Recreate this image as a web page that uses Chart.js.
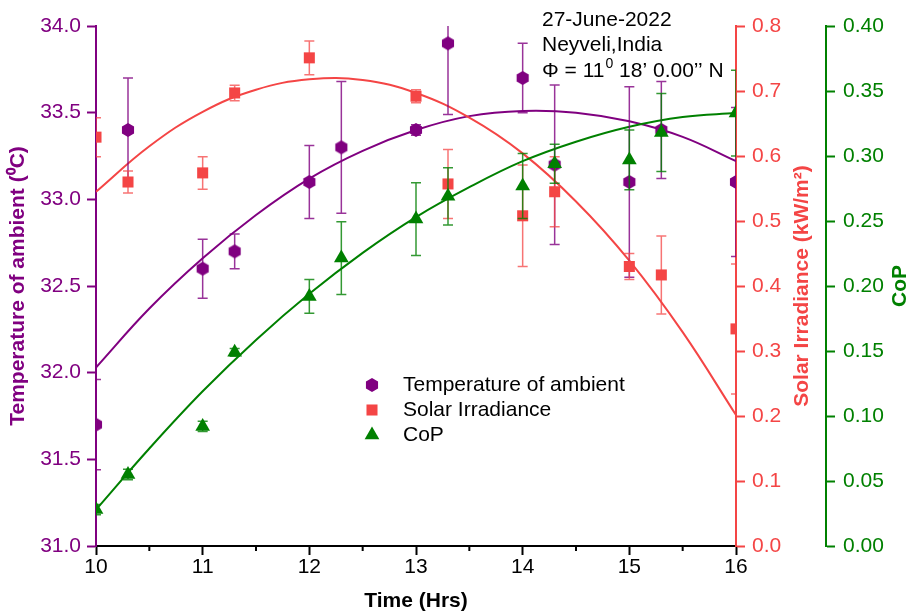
<!DOCTYPE html>
<html>
<head>
<meta charset="utf-8">
<script src="https://cdn.jsdelivr.net/npm/chart.js@4.4.0/dist/chart.umd.min.js"></script>
<style>
  body { margin: 0; background: #fff; }
  #wrap { width: 909px; height: 615px; }
</style>
</head>
<body>
<div id="wrap"><canvas id="chart" width="909" height="615"></canvas></div>
<script>
// measured points
const times = [10, 10.3, 11, 11.3, 12, 12.3, 13, 13.3, 14, 14.3, 15, 15.3, 16];
const tempAmbient = [31.7, 33.4, 32.6, 32.7, 33.1, 33.3, 33.4, 33.9, 33.7, 33.2, 33.1, 33.4, 33.1];
const tempErr = [0.26, 0.3, 0.17, 0.1, 0.21, 0.38, 0.03, 0.41, 0.2, 0.46, 0.55, 0.28, 0.43];
const solar = [0.629, 0.56, 0.574, 0.697, 0.751, null, 0.692, 0.557, 0.508, 0.545, 0.43, 0.417, 0.334];
const solarErr = [0.03, 0.017, 0.025, 0.012, 0.026, 0, 0.01, 0.053, 0.078, 0.054, 0.02, 0.06, 0.1];
const cop = [0.028, 0.055, 0.092, 0.149, 0.192, 0.2215, 0.2515, 0.269, 0.277, 0.294, 0.297, 0.318, 0.333];
const copErr = [0.004, 0.004, 0.004, 0.003, 0.013, 0.028, 0.028, 0.022, 0.025, 0.015, 0.023, 0.03, 0.033];

// fitted curves, every half hour
const fitTimes = [10, 10.5, 11, 11.5, 12, 12.5, 13, 13.5, 14, 14.5, 15, 15.5, 16];
const fitTemp = [32.03, 32.37, 32.66, 32.91, 33.12, 33.28, 33.40, 33.48, 33.51, 33.50, 33.45, 33.36, 33.22];
const fitSolar = [0.545, 0.615, 0.668, 0.702, 0.718, 0.717, 0.697, 0.659, 0.604, 0.530, 0.439, 0.329, 0.2015];
const fitCop = [0.028, 0.075, 0.119, 0.1585, 0.194, 0.2255, 0.253, 0.276, 0.296, 0.311, 0.3225, 0.33, 0.333];

const PURPLE = '#800080';
const RED = '#f44545';
const GREEN = '#008000';
const FONT = '"Liberation Sans", Arial, sans-serif';

Chart.defaults.font.family = FONT;
Chart.defaults.font.size = 21;

function hexagon(r, color) {
  const c = document.createElement('canvas');
  const s = Math.ceil(r * 2) + 2;
  c.width = s; c.height = s;
  const g = c.getContext('2d');
  g.fillStyle = color;
  g.beginPath();
  for (let k = 0; k < 6; k++) {
    const a = Math.PI / 2 + k * Math.PI / 3;
    const px = s / 2 + r * Math.cos(a), py = s / 2 + r * Math.sin(a);
    if (k) g.lineTo(px, py); else g.moveTo(px, py);
  }
  g.closePath();
  g.fill();
  return c;
}
const hexIcon = hexagon(7, PURPLE);

const pts = (xs, ys) => xs.map((x, i) => ({ x: x, y: ys[i] }));

// error bars under each marker set
const errorBars = {
  id: 'errorBars',
  beforeDatasetDraw(chart, args) {
    const ds = chart.data.datasets[args.index];
    if (!ds.errors) return;
    const yScale = chart.scales[ds.yAxisID];
    const ctx = chart.ctx;
    const a = chart.chartArea;
    ctx.save();
    ctx.beginPath();
    ctx.rect(a.left, a.top, a.right - a.left, a.bottom - a.top);
    ctx.clip();
    ctx.strokeStyle = ds.errorColor;
    ctx.lineWidth = 1.5;
    args.meta.data.forEach((pt, i) => {
      const v = ds.data[i].y;
      if (v == null || !ds.errors[i]) return;
      const top = yScale.getPixelForValue(v + ds.errors[i]);
      const bot = yScale.getPixelForValue(v - ds.errors[i]);
      ctx.beginPath();
      ctx.moveTo(pt.x, top); ctx.lineTo(pt.x, bot);
      ctx.moveTo(pt.x - 5, top); ctx.lineTo(pt.x + 5, top);
      ctx.moveTo(pt.x - 5, bot); ctx.lineTo(pt.x + 5, bot);
      ctx.stroke();
    });
    ctx.restore();
  }
};

// minor ticks, right-hand titles, legend and note
const extras = {
  id: 'extras',
  afterDraw(chart) {
    const ctx = chart.ctx;
    const x = chart.scales.x;
    ctx.save();
    ctx.strokeStyle = '#000';
    ctx.lineWidth = 2;
    for (let v = 10.5; v < 16; v += 1) {
      const px = x.getPixelForValue(v);
      ctx.beginPath();
      ctx.moveTo(px, x.top); ctx.lineTo(px, x.top + 5);
      ctx.stroke();
    }

    const midY = (chart.chartArea.top + chart.chartArea.bottom) / 2;
    ctx.font = 'bold 21px ' + FONT;
    ctx.textAlign = 'center';
    ctx.textBaseline = 'middle';
    ctx.save();
    ctx.translate(802, midY);
    ctx.rotate(-Math.PI / 2);
    ctx.fillStyle = RED;
    ctx.fillText('Solar Irradiance (kW/m²)', 0, 0);
    ctx.restore();
    ctx.save();
    ctx.translate(900, midY);
    ctx.rotate(-Math.PI / 2);
    ctx.fillStyle = GREEN;
    ctx.fillText('CoP', 0, 0);
    ctx.restore();

    // legend
    ctx.font = '21px ' + FONT;
    ctx.textAlign = 'left';
    const items = chart.data.datasets.filter(d => d.errors).reverse();
    items.forEach((d, i) => {
      const ly = 385 + i * 25;
      ctx.fillStyle = d.backgroundColor;
      Chart.helpers.drawPoint(ctx, { pointStyle: d.pointStyle, radius: d.pointRadius, rotation: 0, borderWidth: 0 }, 372, ly);
      ctx.fillStyle = '#000';
      ctx.fillText(d.label, 403, ly);
    });

    // note
    ctx.fillStyle = '#000';
    ctx.fillText('27-June-2022', 542, 20);
    ctx.fillText('Neyveli,India', 542, 45);
    const head = 'Φ = 11';
    ctx.fillText(head, 542, 71);
    let nx = 542 + ctx.measureText(head).width;
    ctx.font = '14px ' + FONT;
    ctx.fillText('0', nx + 1, 64);
    nx += ctx.measureText('0').width + 1;
    ctx.font = '21px ' + FONT;
    ctx.fillText(' 18’ 0.00’’ N', nx, 71);
    ctx.restore();
  }
};

new Chart(document.getElementById('chart'), {
  type: 'line',
  data: {
    datasets: [
      {
        label: 'CoP',
        data: pts(times, cop),
        errors: copErr,
        errorColor: 'rgba(0,128,0,0.8)',
        yAxisID: 'yCop',
        showLine: false,
        pointStyle: 'triangle',
        pointRadius: 8.5,
        pointBorderWidth: 0,
        backgroundColor: GREEN,
        borderColor: GREEN,
        clip: 0,
        order: 1
      },
      {
        label: 'Solar Irradiance',
        data: pts(times, solar),
        errors: solarErr,
        errorColor: 'rgba(244,69,69,0.75)',
        yAxisID: 'ySolar',
        showLine: false,
        pointStyle: 'rect',
        pointRadius: 7.8,
        pointBorderWidth: 0,
        backgroundColor: RED,
        borderColor: RED,
        clip: 0,
        order: 2
      },
      {
        label: 'Temperature of ambient',
        data: pts(times, tempAmbient),
        errors: tempErr,
        errorColor: 'rgba(128,0,128,0.8)',
        yAxisID: 'y',
        showLine: false,
        pointStyle: hexIcon,
        pointRadius: 7,
        pointBorderWidth: 0,
        backgroundColor: PURPLE,
        borderColor: PURPLE,
        clip: 0,
        order: 3
      },
      {
        label: 'fitCop',
        data: pts(fitTimes, fitCop),
        yAxisID: 'yCop',
        borderColor: GREEN,
        borderWidth: 2,
        pointRadius: 0,
        tension: 0.4,
        clip: 0,
        order: 4
      },
      {
        label: 'fitSolar',
        data: pts(fitTimes, fitSolar),
        yAxisID: 'ySolar',
        borderColor: RED,
        borderWidth: 2,
        pointRadius: 0,
        tension: 0.4,
        clip: 0,
        order: 5
      },
      {
        label: 'fitTemp',
        data: pts(fitTimes, fitTemp),
        yAxisID: 'y',
        borderColor: PURPLE,
        borderWidth: 2,
        pointRadius: 0,
        tension: 0.4,
        clip: 0,
        order: 6
      }
    ]
  },
  options: {
    responsive: false,
    animation: false,
    layout: { padding: { top: 26, left: 0, right: 0, bottom: 0 } },
    plugins: {
      legend: { display: false },
      tooltip: { enabled: false }
    },
    scales: {
      x: {
        type: 'linear',
        position: 'bottom',
        min: 10,
        max: 16,
        ticks: { stepSize: 1, color: '#000', padding: 0, autoSkip: false, maxRotation: 0 },
        grid: { drawOnChartArea: false, tickLength: 9, tickColor: '#000', tickWidth: 2 },
        border: { color: '#000', width: 2 },
        title: { display: true, text: 'Time (Hrs)', color: '#000', font: { weight: 'bold', size: 21 }, padding: { top: 0, bottom: 1 } },
        afterFit: s => { s.height = 69; }
      },
      y: {
        position: 'left',
        min: 31,
        max: 34,
        ticks: { stepSize: 0.5, color: PURPLE, padding: 6, callback: v => v.toFixed(1) },
        grid: { drawOnChartArea: false, tickLength: 9, tickColor: PURPLE, tickWidth: 2 },
        border: { color: PURPLE, width: 2 },
        title: { display: true, text: 'Temperature of ambient (⁰C)', color: PURPLE, font: { weight: 'bold', size: 21 }, padding: { top: 6, bottom: 0 } },
        afterFit: s => { s.width = 96; }
      },
      ySolar: {
        position: 'right',
        weight: 0,
        min: 0,
        max: 0.8,
        ticks: { stepSize: 0.1, color: RED, padding: 7, callback: v => v.toFixed(1) },
        grid: { drawOnChartArea: false, tickLength: 9, tickColor: RED, tickWidth: 2 },
        border: { color: RED, width: 2 },
        afterFit: s => { s.width = 90; }
      },
      yCop: {
        position: 'right',
        weight: 1,
        min: 0,
        max: 0.4,
        ticks: { stepSize: 0.05, color: GREEN, padding: 8, callback: v => v.toFixed(2) },
        grid: { drawOnChartArea: false, tickLength: 9, tickColor: GREEN, tickWidth: 2 },
        border: { color: GREEN, width: 2 },
        afterFit: s => { s.width = 83; }
      }
    }
  },
  plugins: [errorBars, extras]
});
</script>
</body>
</html>
